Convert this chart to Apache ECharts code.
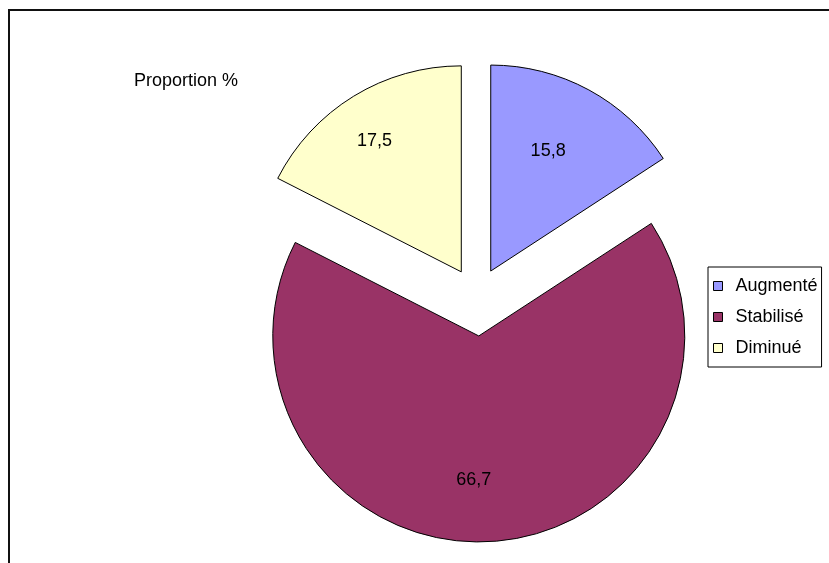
<!DOCTYPE html>
<html>
<head>
<meta charset="utf-8">
<script src="https://cdn.jsdelivr.net/npm/echarts@6/dist/echarts.min.js"></script>
<style>
  html, body { margin: 0; padding: 0; background: #fff; }
  #chart { width: 829px; height: 563px; }
</style>
</head>
<body>
<div id="chart"></div>
<script>
// Response categories and their share (%)
const categories = ['Augmenté', 'Stabilisé', 'Diminué'];
const values = [15.8, 66.7, 17.5];
const seriesTitle = 'Proportion %';

// Fill colours for each category
const colors = ['#9999FF', '#993366', '#FFFFCC'];
// Value label placement inside each slice: distance (fraction of radius)
// and angular nudge (degrees) from the slice's mid-angle
const labelRadius = [0.63, 0.686, 0.746];
const labelAngleShift = [-2.9, 5.2, -2.2];
// Which slice group each category belongs to (each group has its own pull-out distance)
const sliceGroup = [0, 1, 0];
const groupOffset = [29.5, 39];

const FONT = '"Liberation Sans", Arial, sans-serif';
const FONT_SIZE = 18;
const RADIUS = 206;
const total = values.reduce((a, b) => a + b, 0);

// Mid-angle of each slice, measured clockwise from 12 o'clock
const midAngles = [];
{
  let acc = 0;
  values.forEach(v => {
    midAngles.push(((acc + v / 2) / total) * 2 * Math.PI);
    acc += v;
  });
}

function buildSeries(group) {
  return {
    type: 'pie',
    name: seriesTitle,
    center: [476.7, 297],
    radius: [0, RADIUS],
    startAngle: 90,
    clockwise: true,
    selectedMode: 'multiple',
    selectedOffset: groupOffset[group],
    avoidLabelOverlap: false,
    emphasis: { disabled: true },
    silent: true,
    label: {
      show: true,
      position: 'inside',
      color: '#000',
      fontFamily: FONT,
      fontSize: FONT_SIZE,
      formatter: p => String(p.value).replace('.', ',')
    },
    labelLine: { show: false },
    // shift the default inside label (at half radius on the mid-angle)
    // to its own radius/angle
    labelLayout: p => {
      const i = p.dataIndex;
      const m = midAngles[i];
      const a = m + labelAngleShift[i] * Math.PI / 180;
      const d = labelRadius[i] * RADIUS;
      const d0 = 0.5 * RADIUS;
      return {
        dx: Math.sin(a) * d - Math.sin(m) * d0,
        dy: -Math.cos(a) * d + Math.cos(m) * d0
      };
    },
    data: categories.map((name, i) => {
      const shown = sliceGroup[i] === group;
      return {
        name: name,
        value: values[i],
        selected: shown,
        itemStyle: shown
          ? { color: colors[i], borderColor: '#000', borderWidth: 1 }
          : { color: 'rgba(0,0,0,0)', borderWidth: 0 },
        label: { show: shown }
      };
    })
  };
}

const chart = echarts.init(document.getElementById('chart'), null, { renderer: 'canvas' });

chart.setOption({
  animation: false,
  backgroundColor: '#fff',
  title: {
    text: seriesTitle,
    left: 134,
    top: 71,
    padding: 0,
    textStyle: {
      fontFamily: FONT,
      fontSize: FONT_SIZE,
      fontWeight: 'normal',
      color: '#000',
      lineHeight: 20
    }
  },
  legend: {
    orient: 'vertical',
    left: 708,
    top: 267,
    padding: [9, 4, 9, 5],
    itemWidth: 9,
    itemHeight: 9,
    itemGap: 11,
    icon: 'rect',
    borderColor: '#000',
    borderWidth: 1,
    selectedMode: false,
    textStyle: {
      fontFamily: FONT,
      fontSize: FONT_SIZE,
      color: '#000',
      lineHeight: 20,
      padding: [0, 0, 0, 8]
    },
    data: categories.map((name, i) => ({
      name: name,
      itemStyle: { color: colors[i], borderColor: '#000', borderWidth: 1 }
    }))
  },
  graphic: [{
    type: 'rect',
    z: -1,
    shape: { x: 9, y: 10, width: 900, height: 700 },
    style: { fill: 'none', stroke: '#111', lineWidth: 2 }
  }],
  series: [buildSeries(0), buildSeries(1)]
});
</script>
</body>
</html>
